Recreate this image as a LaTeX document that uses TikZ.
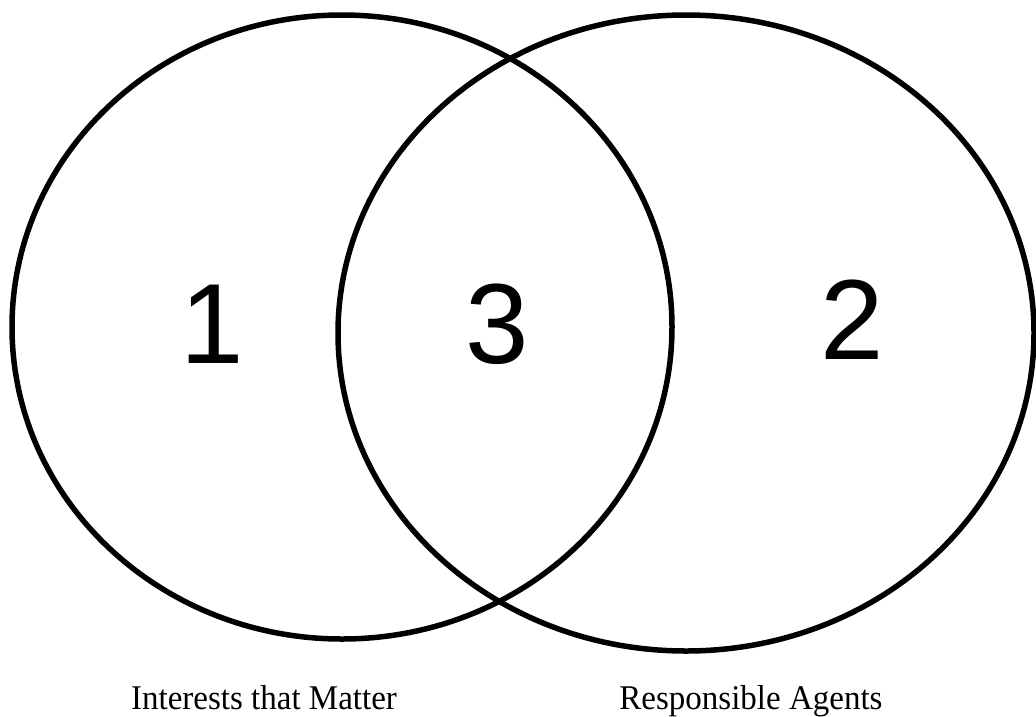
\documentclass[tikz,border=0pt]{standalone}
\usepackage{fontspec}
\setmainfont{Liberation Serif}
\newfontfamily\numfont{Liberation Sans}
\usetikzlibrary{positioning,shapes.geometric}

\begin{document}
\begin{tikzpicture}[
  x=1pt, y=-1pt,
  setbox/.style={draw, ellipse, line width=5.5pt, inner sep=0pt},
  regnum/.style={font=\numfont\fontsize{114}{114}\selectfont, inner sep=0pt},
  caption/.style={font=\fontsize{33}{33}\selectfont, inner sep=0pt, anchor=base, yscale=1.05}
]
\useasboundingbox (0,0) rectangle (1036,716);
\node[setbox, minimum width=660pt, minimum height=624pt] (interests) at (342,327) {};
\node[setbox, minimum width=696pt, minimum height=636pt] (agents) at (686,333) {};

\node[regnum] (one) at (212,324) {1};
\node[regnum] (three) at (497,324) {3};
\node[regnum] (two) at (852,320) {2};

\node[caption] (intlabel) at (264,709) {Interests that Matter};
\node[caption] (agtlabel) at (751,709) {Responsible Agents};
\end{tikzpicture}
\end{document}
